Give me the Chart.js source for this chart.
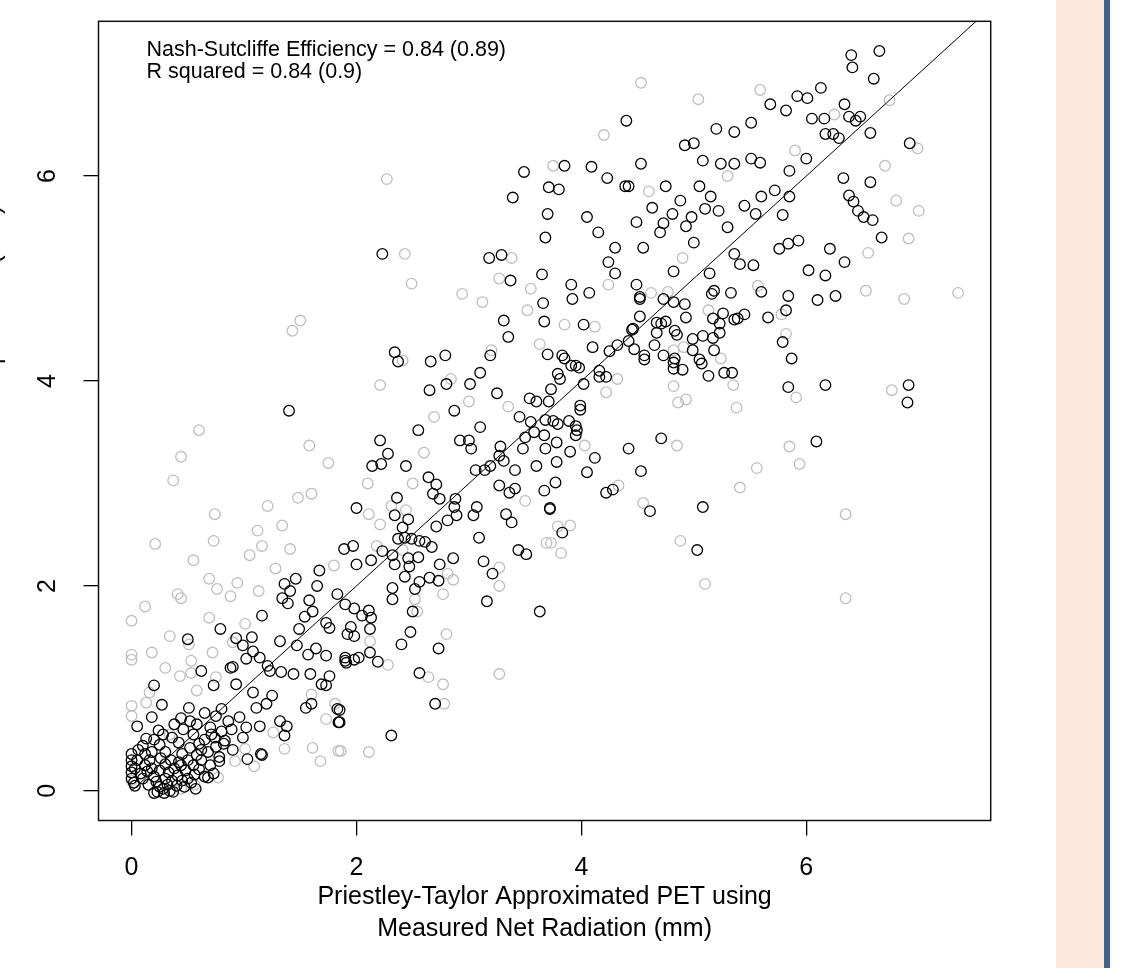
<!DOCTYPE html>
<html><head><meta charset="utf-8">
<script src="https://cdn.jsdelivr.net/npm/chart.js@4"></script>
<style>
html,body{margin:0;padding:0;background:#fff;width:1128px;height:968px;overflow:hidden;position:relative;}
#wrap{position:absolute;left:-60px;top:0;width:1060px;height:968px;}
#panel{position:absolute;left:1056px;top:0;width:48px;height:968px;background:#fce9db;}
#bar{position:absolute;left:1104px;top:0;width:6px;height:968px;background:#41618f;}
</style></head><body>
<div id="panel"></div><div id="bar"></div>
<div id="wrap"><canvas id="c" width="1060" height="968"></canvas></div>
<script>
const xTicks = [0, 2, 4, 6];
const yTicks = [0, 2, 4, 6];
const xTitle = ["Priestley-Taylor Approximated PET using", "Measured Net Radiation (mm)"];
const yTitle = ["Hargreaves Approximated PET using", "Measured Mean Air Temperature (mm)"];
const notes = ["Nash-Sutcliffe Efficiency = 0.84 (0.89)", "R squared = 0.84 (0.9)"];
const lineX = [0, 8];

const blackPts = [
[0.2,1.03],[0.27,0.84],[0.18,0.72],[0.05,0.63],[0.24,0.59],[0.13,0.51],
[0.62,1.17],[0.44,0.71],[0.51,0.81],[0.58,0.65],[0.65,0.76],[0.73,1.03],[0.75,0.73],[0.8,0.8],[0.9,1.21],[0.88,1.2],[0.93,1.04],[0.99,1.42],[1.02,1.29],[1.08,1.36],[1.14,1.3],[1.21,1.22],[1.23,1.17],[1.33,1.16],[1.44,1.14],[1.32,1.46],[1.47,1.42],[1.57,1.33],[1.64,1.39],[1.73,1.32],[1.9,1.27],[1.59,1.14],[1.76,1.12],[1.69,1.04],[1.73,1.03],[1.55,0.81],[1.6,0.85],[1.83,0.8],[1.84,0.67],
[1.02,0.62],[1.14,0.63],[1.15,0.36],[1.03,0.31],[0.99,0.52],[1.32,0.68],[1.38,0.63],[1.36,0.54],[1.16,0.35],[1.25,0.93],[1.2,0.85],[1.11,0.81],[1.08,0.96],[0.96,0.72],[0.89,0.6],[0.82,0.46],[0.78,0.33],[0.68,0.13],[0.34,0.0],[0.29,-0.02],[0.23,-0.01],
[0.0,0.3],[0.0,0.36],[0.0,0.24],[0.0,0.18],[0.0,0.12],[0.02,0.08],[0.03,0.22],[0.05,0.3],[0.08,0.17],[0.1,0.12],[0.12,0.25],[0.14,0.19],[0.15,0.06],[0.18,0.22],[0.2,0.14],[0.22,0.09],[0.25,0.04],[0.25,0.2],[0.28,0.02],[0.3,0.12],[0.3,0.26],[0.32,0.06],[0.33,0.18],[0.35,0.3],[0.36,0.1],[0.38,0.22],[0.4,0.05],[0.41,0.15],[0.42,0.28],[0.45,0.1],[0.45,0.36],[0.48,0.2],[0.5,0.3],[0.5,0.12],[0.52,0.42],[0.55,0.25],[0.56,0.16],[0.58,0.35],[0.6,0.21],[0.6,0.46],[0.62,0.3],[0.65,0.14],[0.65,0.5],[0.68,0.38],[0.7,0.25],[0.71,0.55],[0.73,0.17],[0.75,0.43],[0.78,0.29],[0.8,0.58],[0.83,0.49],[0.86,0.68],[0.3,0.38],[0.25,0.45],[0.2,0.5],[0.18,0.38],[0.1,0.44],[0.12,0.36],[0.28,0.55],[0.36,0.52],[0.42,0.47],[0.46,0.6],[0.55,0.55],[0.52,0.68],[0.38,0.65],[0.06,0.4],[0.03,0.05],[0.16,0.3],[0.26,0.32],[0.44,0.25],[0.53,0.08],[0.62,0.4],[0.7,0.62],[0.74,0.52],[0.9,0.4],[0.57,0.02],[0.47,0.04],[0.2,-0.02],[0.37,-0.01],
[2.0,2.76],[2.34,2.69],[2.46,2.65],[2.41,2.57],[2.37,2.46],[2.43,2.47],[2.49,2.46],[2.56,2.44],[2.61,2.43],[2.67,2.38],[2.71,2.58],[2.81,2.64],[2.87,2.77],[2.89,2.69],[3.04,2.69],[3.07,2.77],[3.33,2.7],[3.38,2.62],[3.72,2.76],[3.83,2.52],[3.44,2.35],[3.51,2.31],[3.09,2.47],
[1.89,2.36],[1.97,2.39],[2.23,2.34],[2.32,2.3],[2.0,2.21],[2.13,2.25],[2.34,2.21],[2.46,2.27],[2.55,2.28],[2.47,2.19],[2.43,2.09],[2.56,2.04],[2.52,1.97],[2.65,2.08],[2.73,2.05],[2.74,2.21],[2.86,2.27],[3.13,2.24],[3.21,2.12],[3.16,1.85],[3.63,1.75],[2.32,1.98],[2.32,1.87],[2.5,1.75],[2.48,1.55],[2.4,1.43],[2.73,1.39],[2.56,1.15],[2.7,0.85],[2.31,0.54],
[1.9,1.82],[1.98,1.78],[2.05,1.71],[2.11,1.76],[2.13,1.69],[2.12,1.58],[1.95,1.6],[1.92,1.53],[1.98,1.51],[1.9,1.3],[1.91,1.25],[1.98,1.28],[2.02,1.3],[2.12,1.35],[2.19,1.26],[1.85,0.79],[1.85,0.67],
[3.65,5.04],[3.91,4.94],[3.92,4.8],[4.07,4.86],[4.3,5.05],[4.24,5.16],[4.49,4.94],[4.52,4.8],[4.82,5.07],[5.14,5.05],[5.16,4.85],[5.18,4.88],[5.33,4.86],[5.41,5.14],[5.53,5.13],[5.6,4.87],[5.84,4.83],[5.82,4.69],[5.79,4.38],[5.87,4.22],[5.84,3.94],[3.66,4.76],[3.67,4.58],[4.02,4.55],[4.52,4.63],[4.46,4.51],[4.73,4.8],[4.82,4.77],[4.92,4.75],[4.93,4.62],[4.71,4.56],[4.75,4.58],[4.67,4.47],[4.83,4.49],[4.85,4.45],[4.99,4.41],[5.08,4.44],[5.17,4.42],[5.17,4.61],[5.26,4.66],[5.23,4.56],[5.23,4.47],[5.36,4.6],[5.39,4.61],[5.45,4.65],[5.66,4.62],[4.99,4.3],[5.05,4.21],[5.07,4.17],[5.18,4.3],[5.13,4.05],[5.27,4.08],[5.34,4.08],[4.82,4.18],[4.82,4.12],[4.83,4.22],[4.9,4.11],[4.65,4.35],[4.73,4.25],[4.56,4.25],[4.56,4.21],
[3.71,3.8],[3.68,3.62],[3.75,3.61],[3.79,3.58],[3.78,3.4],[3.68,3.34],[3.67,3.47],[3.89,3.61],[3.95,3.56],[3.95,3.47],[3.96,3.52],[3.78,3.21],[3.9,3.31],[3.77,3.01],[4.05,3.11],[4.12,3.25],[4.42,3.34],[4.71,3.44],[4.53,3.12],[4.61,2.73],[5.08,2.77],[4.22,2.91],[4.28,2.94],[3.72,2.75],[3.67,2.93],
[3.91,4.15],[3.98,4.13],[4.02,3.97],[4.16,4.04],[4.22,4.04],[4.16,4.1],[4.32,4.35],[4.25,4.29],[4.42,4.39],[4.45,4.5],[4.47,4.31],[4.67,4.57],[4.52,4.82],
[3.7,4.26],[3.83,4.25],[3.85,4.22],[3.95,4.15],[3.79,4.07],[3.81,4.02],[3.73,3.92],[3.99,3.76],[3.99,3.72],[4.1,4.33],
[1.4,3.71],[1.36,2.02],[1.41,1.95],[1.34,1.88],[1.39,1.83],[1.16,1.71],[0.93,1.49],[0.5,1.48],[0.79,1.58],[1.67,2.15],[1.58,1.86],[1.61,1.75],[1.73,1.64],[1.76,1.59],[1.83,1.92],[1.65,2.0],[1.49,1.58],[1.07,1.5],[1.46,2.07],[1.54,1.7],
[2.23,5.24],[2.34,4.28],[2.37,4.19],[2.66,4.19],[2.79,4.25],[2.65,3.91],[2.8,3.97],[2.87,3.71],[3.01,3.97],[3.1,4.08],[3.18,5.2],[3.31,4.59],[3.35,4.43],[3.25,3.88],[3.1,3.55],[3.0,3.42],[2.92,3.42],[3.02,3.34],[3.14,3.13],[3.19,3.17],[3.27,3.27],[3.31,3.22],[3.28,3.36],[3.48,3.34],[3.6,3.17],[3.41,3.13],[3.41,2.95],[3.36,2.91],[3.27,2.98],[3.06,3.13],[2.88,2.85],[2.74,2.85],[2.68,2.9],[2.71,2.99],[2.64,3.06],[2.44,3.17],[2.22,3.19],[2.28,3.29],[2.36,2.86],[2.14,3.17],[3.39,5.79],[3.49,6.04],[3.29,5.23],[3.37,4.98],[3.19,4.25],[3.54,3.83],[3.6,3.8],[2.55,3.52],[2.21,3.42],[3.55,3.6],[3.45,3.65],[3.58,3.5],[3.5,3.45],
[3.71,5.89],[3.8,5.87],[3.7,5.63],[3.68,5.4],[3.85,6.1],[4.09,6.09],[4.23,5.98],[4.4,6.54],[4.39,5.9],[4.42,5.9],[4.53,6.12],[4.7,5.45],[4.49,5.55],[4.63,5.69],[4.73,5.54],[4.81,5.63],[4.88,5.76],[4.93,5.51],[5.0,5.35],[4.98,5.6],[5.1,5.68],[5.15,5.8],[5.22,5.66],[5.36,5.24],[5.84,5.34],[6.02,5.08],[6.17,5.03],[6.34,5.16],[4.92,6.3],[5.0,6.32],[5.08,6.15],[5.2,6.46],[5.36,6.43],[5.51,6.52],[5.59,6.13],[5.51,6.17],[5.36,6.12],[5.24,6.12],[5.72,5.86],[5.6,5.8],[5.45,5.71],[5.55,5.63],[5.79,5.62],[5.85,5.8],[5.92,6.78],[6.01,6.76],[5.82,6.64],[5.68,6.7],[6.13,6.86],[6.05,6.56],[6.16,6.56],[6.24,6.41],[6.29,6.37],[6.4,7.18],[6.41,7.06],[6.65,7.22],[6.6,6.95],[6.34,6.7],[6.38,6.58],[6.44,6.54],[6.48,6.58],[6.57,6.42],[6.57,5.94],[6.33,5.98],[6.38,5.81],[6.42,5.75],[6.46,5.66],[6.51,5.6],[6.59,5.57],[6.67,5.4],[6.21,5.29],[5.93,5.37],[5.76,5.29],[6.17,6.41],[6.0,6.17],[5.85,6.05],[4.3,5.3],[4.15,5.45],[4.55,5.3],[4.05,5.6],[5.3,5.5],[5.05,5.9],[4.75,5.9],[6.92,6.32],
[6.1,4.79],[6.26,4.83],[6.09,3.41],[6.17,3.96],[6.91,3.96],[6.9,3.79],[5.03,2.35]
];

const greyPts = [
[0,1.33],[0,1.28],[0.18,1.35],[0.51,1.43],[0.72,1.35],[0.53,1.27],[0.43,1.12],[0.53,1.15],[0,0.83],[0,0.73],[0.13,0.86],[0.16,0.96],[0.58,0.98],[0.75,1.11],[0.34,0.55],[1.26,0.57],[1.36,0.41],[1.61,0.42],[1.68,0.29],[1.84,0.39],[1.73,0.7],[1.81,0.85],[1.6,0.94],[0.77,0.13],[0.56,0.06],[0.44,0.02],[1.09,0.24],[1.01,0.41],[0.92,0.29],[0,0.18],[0,0.1],
[2.11,2.7],[2.21,2.6],[2.31,2.78],[2.44,2.74],[2.18,2.39],[2.41,2.35],[2.81,2.12],[2.86,2.06],[2.77,1.92],[2.52,1.87],[2.54,1.75],[3.27,2.18],[3.27,2.0],[2.8,1.53],[2.12,1.46],[2.28,1.23],[2.64,1.11],[2.77,1.04],[2.78,0.85],[3.27,1.14],[3.79,2.58],[3.9,2.59],[3.69,2.42],[3.73,2.42],[3.82,2.32],[3.5,2.83],[1.86,0.39],[2.11,0.38],
[4.24,4.94],[4.62,4.86],[4.77,4.87],[5.13,4.69],[5.57,4.93],[5.78,4.65],[5.82,4.46],[3.85,4.55],[4.12,4.53],[4.82,4.3],[4.91,4.33],[5.24,4.22],[5.35,3.96],[4.82,3.95],[4.86,3.79],[4.93,3.82],[5.38,3.74],[4.32,4.02],[4.22,3.89],[4.03,3.37],[4.85,3.37],[4.33,2.98],[4.55,2.81],[5.56,3.15],[5.41,2.96],[5.85,3.36],[5.91,3.84],[3.63,4.36],
[0,1.66],[0.44,1.88],[0.41,1.92],[0.37,3.03],[0.44,3.26],[0.6,3.52],[0.69,2.07],[0.76,1.97],[0.73,2.44],[0.21,2.41],[0.74,2.7],[1.21,2.78],[1.12,2.54],[1.16,2.39],[1.48,2.86],[1.43,4.49],[1.5,4.59],[1.75,3.2],[1.58,3.37],[0.88,1.9],[1.01,1.63],[1.13,1.95],[1.28,2.17],[1.8,2.2],[1.41,2.36],[0.94,2.03],[0.34,1.51],[0.69,1.69],[1.34,2.59],[0.12,1.8],[0.3,1.2],[0.9,1.45],[1.05,2.3],[1.6,2.9],[0.55,2.25],
[2.27,5.97],[2.43,5.24],[2.49,4.95],[2.41,4.2],[2.94,4.85],[3.12,4.77],[3.27,5.0],[3.38,5.2],[2.21,3.96],[2.69,3.65],[3.52,4.69],[2.84,4.02],[3.2,4.3],[3.55,4.9],[2.6,3.3],[2.1,3.0],[3.0,3.8],[2.5,3.0],[3.35,3.75],
[4.53,6.91],[5.04,6.75],[5.59,6.84],[6.74,6.74],[6.99,6.27],[6.8,5.76],[6.91,5.39],[7.0,5.66],[3.75,6.1],[4.2,6.4],[4.6,5.85],[5.3,6.0],[5.9,6.25],[6.25,6.6],[6.7,6.1],[4.9,5.2],[6.55,5.25],
[6.53,4.88],[6.76,3.91],[6.87,4.8],[7.35,4.86],[6.35,1.88],[5.1,2.02],[4.88,2.44],[5.94,3.19],[6.35,2.7]
];

const FONT = "'Liberation Sans', Arial, sans-serif";
const S = 60;

const boxPlugin = {
  id: 'rbox',
  afterDraw(chart) {
    const {ctx, chartArea: a} = chart;
    ctx.save();
    ctx.strokeStyle = '#111';
    ctx.lineWidth = 1.5;
    ctx.strokeRect(a.left, a.top, a.right - a.left, a.bottom - a.top);
    ctx.fillStyle = '#000';
    ctx.font = '21.5px ' + FONT;
    ctx.textBaseline = 'alphabetic';
    ctx.textAlign = 'left';
    notes.forEach((t, i) => ctx.fillText(t, a.left + 48, a.top + 35 + i * 22));
    ctx.restore();
  }
};

new Chart(document.getElementById('c'), {
  type: 'scatter',
  data: {
    datasets: [
      {type: 'line', label: '1:1', data: lineX.map(v => ({x: v, y: v})), borderColor: '#000', borderWidth: 1, pointRadius: 0, fill: false, tension: 0, order: 0},
      {label: 'black', data: blackPts.map(p => ({x: p[0], y: p[1]})), pointStyle: 'circle', pointRadius: 5.3, borderWidth: 1.3, pointBorderWidth: 1.3, borderColor: '#000', pointBorderColor: '#000', backgroundColor: 'rgba(0,0,0,0)', pointBackgroundColor: 'rgba(0,0,0,0)', order: 1},
      {label: 'grey', data: greyPts.map(p => ({x: p[0], y: p[1]})), pointStyle: 'circle', pointRadius: 5.3, borderWidth: 1.3, pointBorderWidth: 1.3, borderColor: '#bebebe', pointBorderColor: '#bebebe', backgroundColor: 'rgba(0,0,0,0)', pointBackgroundColor: 'rgba(0,0,0,0)', order: 2}
    ]
  },
  options: {
    responsive: false,
    animation: false,
    events: [],
    layout: {padding: {left: 0, top: 21.3, right: 9.3, bottom: 0}},
    plugins: {legend: {display: false}, tooltip: {enabled: false}},
    scales: {
      x: {
        type: 'linear', min: -0.294, max: 7.64,
        afterBuildTicks: s => { s.ticks = xTicks.map(v => ({value: v})); },
        afterFit: s => { s.height = 147.5; s.paddingLeft = 0; s.paddingRight = 0; },
        border: {display: false},
        grid: {drawOnChartArea: false, drawTicks: true, tickLength: 15, color: '#000', lineWidth: 1.3},
        ticks: {font: {family: FONT, size: 25}, color: '#000', padding: 17.5, maxRotation: 0, minRotation: 0, callback: v => String(v)},
        title: {display: true, text: xTitle, color: '#000', font: {family: FONT, size: 25, lineHeight: 1.27}, padding: {top: 0, bottom: 22.8}}
      },
      y: {
        type: 'linear', min: -0.289, max: 7.51,
        afterBuildTicks: s => { s.ticks = yTicks.map(v => ({value: v})); },
        afterFit: s => { s.width = 98.5 + S; s.paddingTop = 0; s.paddingBottom = 0; },
        border: {display: false},
        grid: {drawOnChartArea: false, drawTicks: true, tickLength: 15, color: '#000', lineWidth: 1.3},
        ticks: {font: {family: FONT, size: 25}, color: '#000', padding: 28.5, minRotation: 90, maxRotation: 90, crossAlign: 'center', callback: v => String(v)},
        title: {display: true, text: yTitle, color: '#000', font: {family: FONT, size: 25, lineHeight: 1.27}, padding: {top: 5.4, bottom: 0}}
      }
    }
  },
  plugins: [boxPlugin]
});
</script>
</body></html>
